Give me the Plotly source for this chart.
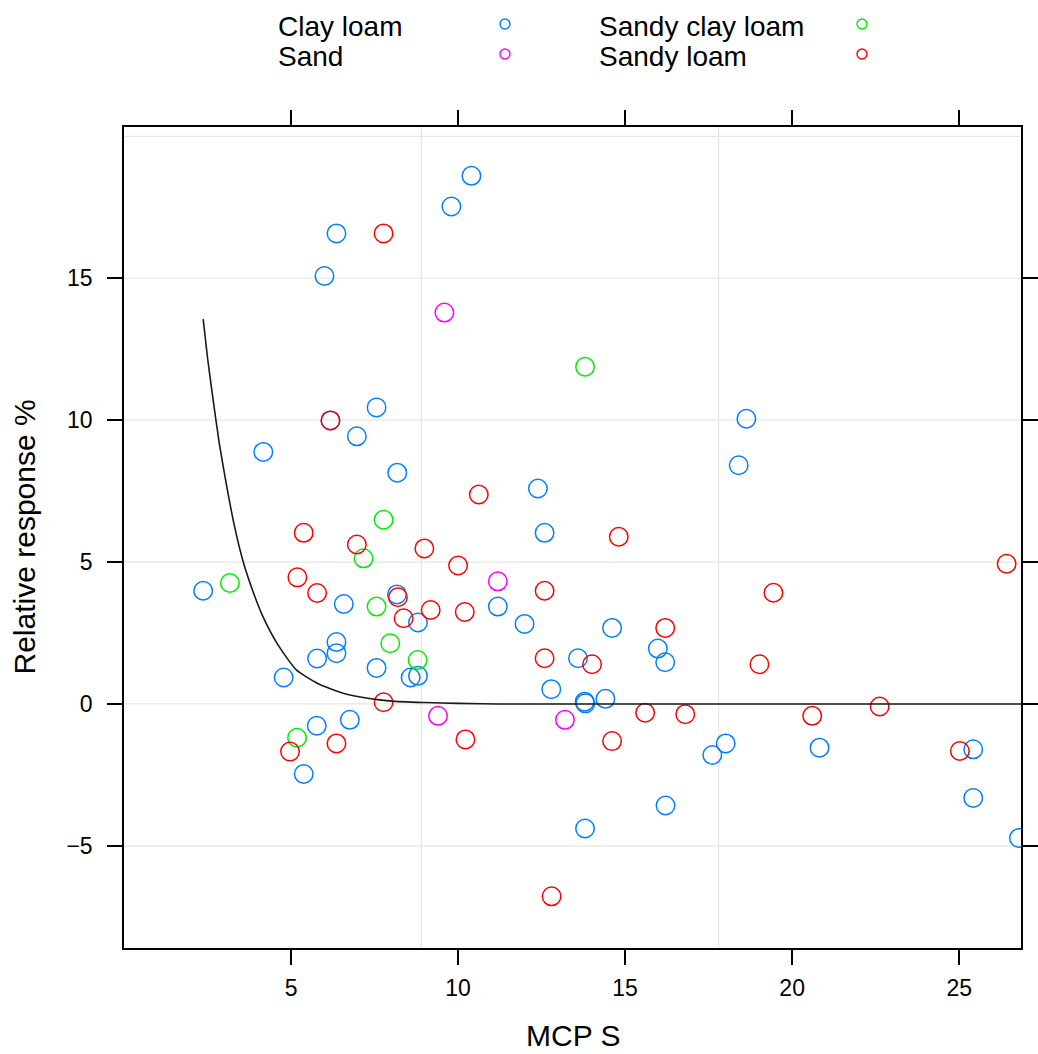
import plotly.graph_objects as go

# ---------------- data ----------------
clay_loam_x = [2.37, 4.17, 4.78, 6.00, 6.36, 6.36, 6.36, 5.78, 6.58, 6.97, 7.56, 8.18, 7.56, 8.17,
               8.80, 8.58, 8.80, 9.80, 10.40, 12.39, 12.59, 11.19, 11.99, 12.79, 5.77, 6.76, 5.38,
               18.63, 18.40, 14.61, 13.59, 15.98, 16.20, 13.79, 13.81, 14.41, 13.80, 16.21, 17.61,
               18.01, 20.82, 25.42, 25.42, 26.79, 6.18]
clay_loam_y = [3.99, 8.88, 0.93, 15.08, 16.58, 2.18, 1.79, 1.60, 3.52, 9.43, 10.45, 8.15, 1.27, 3.86,
               2.87, 0.93, 0.99, 17.53, 18.61, 7.59, 6.03, 3.43, 2.82, 0.52, -0.77, -0.56, -2.47,
               10.05, 8.41, 2.68, 1.61, 1.95, 1.47, 0.08, 0.02, 0.18, -4.39, -3.58, -1.80,
               -1.39, -1.54, -1.60, -3.31, -4.72, 9.99]

sand_x = [9.59, 11.19, 9.40, 13.20]
sand_y = [13.79, 4.32, -0.42, -0.56]

sandy_clay_loam_x = [3.17, 7.77, 7.17, 7.56, 7.97, 8.79, 5.18, 13.80]
sandy_clay_loam_y = [4.26, 6.49, 5.13, 3.43, 2.14, 1.55, -1.19, 11.88]

sandy_loam_x = [7.77, 6.18, 5.38, 6.97, 5.19, 5.78, 8.20, 8.37, 8.99, 9.18, 10.00, 10.20, 10.62,
                12.59, 12.59, 7.77, 10.22, 6.36, 4.97, 14.81, 16.20, 14.01, 19.44, 19.02, 26.42,
                15.60, 16.80, 20.60, 22.62, 14.61, 25.02, 12.80]
sandy_loam_y = [16.58, 9.99, 6.03, 5.62, 4.46, 3.91, 3.76, 3.02, 5.48, 3.31, 4.88, 3.24, 7.38,
                3.99, 1.61, 0.06, -1.25, -1.39, -1.68, 5.89, 2.68, 1.40, 3.92, 1.40, 4.94,
                -0.31, -0.36, -0.42, -0.09, -1.31, -1.66, -6.78]

curve_x = [2.37, 2.50, 2.67, 2.85, 3.07, 3.30, 3.57, 3.85, 4.17, 4.60, 5.16, 5.80, 6.56, 7.30,
           8.00, 9.00, 10.00, 11.20, 26.90]
curve_y = [13.56, 12.20, 10.70, 9.20, 7.70, 6.30, 5.00, 4.00, 3.05, 2.10, 1.20, 0.72, 0.38, 0.20,
           0.10, 0.05, 0.02, 0.00, 0.00]

group_names = ["Clay loam", "Sand", "Sandy clay loam", "Sandy loam"]
group_colors = ["#0080ff", "#ff00ff", "#00ee00", "#ff0000"]

x_ticks = [5, 10, 15, 20, 25]
y_ticks = [-5, 0, 5, 10, 15]
h_grid = [-5, 0, 5, 10, 15, 20]
v_grid = [8.9, 17.8]
x_range = [0.0, 26.85]
y_range = [-8.6, 20.33]

x_title = "MCP S"
y_title = "Relative response %"

# ---------------- figure ----------------
FONT = "Liberation Sans, Arial, sans-serif"
W, H = 1038, 1054
L, R, T, B = 124, 1021, 127, 948
PW, PH = R - L, B - T


def pxx(p):
    return (p - L) / PW


def pxy(p):
    return (B - p) / PH


fig = go.Figure()

series = [
    (clay_loam_x, clay_loam_y),
    (sand_x, sand_y),
    (sandy_clay_loam_x, sandy_clay_loam_y),
    (sandy_loam_x, sandy_loam_y),
]
for (xs, ys), name, col in zip(series, group_names, group_colors):
    fig.add_trace(go.Scatter(
        x=xs, y=ys, mode="markers", name=name, showlegend=False,
        marker=dict(symbol="circle-open", size=18.5, color=col, line=dict(width=1.5, color=col)),
    ))

fig.add_trace(go.Scatter(
    x=curve_x, y=curve_y, mode="lines", showlegend=False,
    line=dict(color="#1a1a1a", width=1.6, shape="spline", smoothing=0.6),
))

shapes = []
for yv in h_grid:
    shapes.append(dict(type="line", xref="paper", x0=0, x1=1, yref="y", y0=yv, y1=yv,
                       line=dict(color="#e6e6e6", width=1.2), layer="below"))
for xv in v_grid:
    shapes.append(dict(type="line", yref="paper", y0=0, y1=1, xref="x", x0=xv, x1=xv,
                       line=dict(color="#e6e6e6", width=1.2), layer="below"))

# legend (text left, symbol right, two columns)
legend_pos = [
    (276, 505, 24),   # Clay loam
    (276, 505, 54),   # Sand
    (597, 862, 24),   # Sandy clay loam
    (597, 862, 54),   # Sandy loam
]
annotations = []
for name, col, (tx, sx, ry) in zip(group_names, group_colors, legend_pos):
    annotations.append(dict(text=name, xref="paper", yref="paper", x=pxx(tx), y=pxy(ry + 2),
                            xanchor="left", yanchor="middle", showarrow=False,
                            font=dict(family=FONT, size=28, color="black")))
    shapes.append(dict(type="circle", xref="paper", yref="paper",
                       xsizemode="pixel", ysizemode="pixel",
                       xanchor=pxx(sx), yanchor=pxy(ry), x0=-5, x1=5, y0=-5, y1=5,
                       line=dict(color=col, width=1.4)))

annotations.append(dict(text=x_title, xref="paper", yref="paper", x=0.5, y=pxy(1035),
                        xanchor="center", yanchor="middle", showarrow=False,
                        font=dict(family=FONT, size=30, color="black")))
annotations.append(dict(text=y_title, xref="paper", yref="paper", x=pxx(24), y=0.5,
                        xanchor="center", yanchor="middle", showarrow=False, textangle=-90,
                        font=dict(family=FONT, size=30, color="black")))

axis_common = dict(showline=True, linecolor="black", linewidth=1.5, mirror="ticks",
                   ticks="outside", ticklen=15, tickwidth=1.5, tickcolor="black",
                   showgrid=False, zeroline=False, automargin=False,
                   tickfont=dict(family=FONT, size=23, color="black"))

fig.update_layout(
    width=W, height=H, autosize=False,
    margin=dict(l=L, r=W - R, t=T, b=H - B, pad=0, autoexpand=False),
    paper_bgcolor="white", plot_bgcolor="white",
    font=dict(family=FONT, color="black"),
    xaxis=dict(range=x_range, tickvals=x_ticks, ticklabelstandoff=4, **axis_common),
    yaxis=dict(range=y_range, tickvals=y_ticks, ticklabelstandoff=10, **axis_common),
    shapes=shapes, annotations=annotations, showlegend=False,
)

fig.write_html(
    "out.html",
    config={"responsive": False, "displayModeBar": False},
    post_script="document.body.style.margin='0';document.body.style.overflow='hidden';",
)
